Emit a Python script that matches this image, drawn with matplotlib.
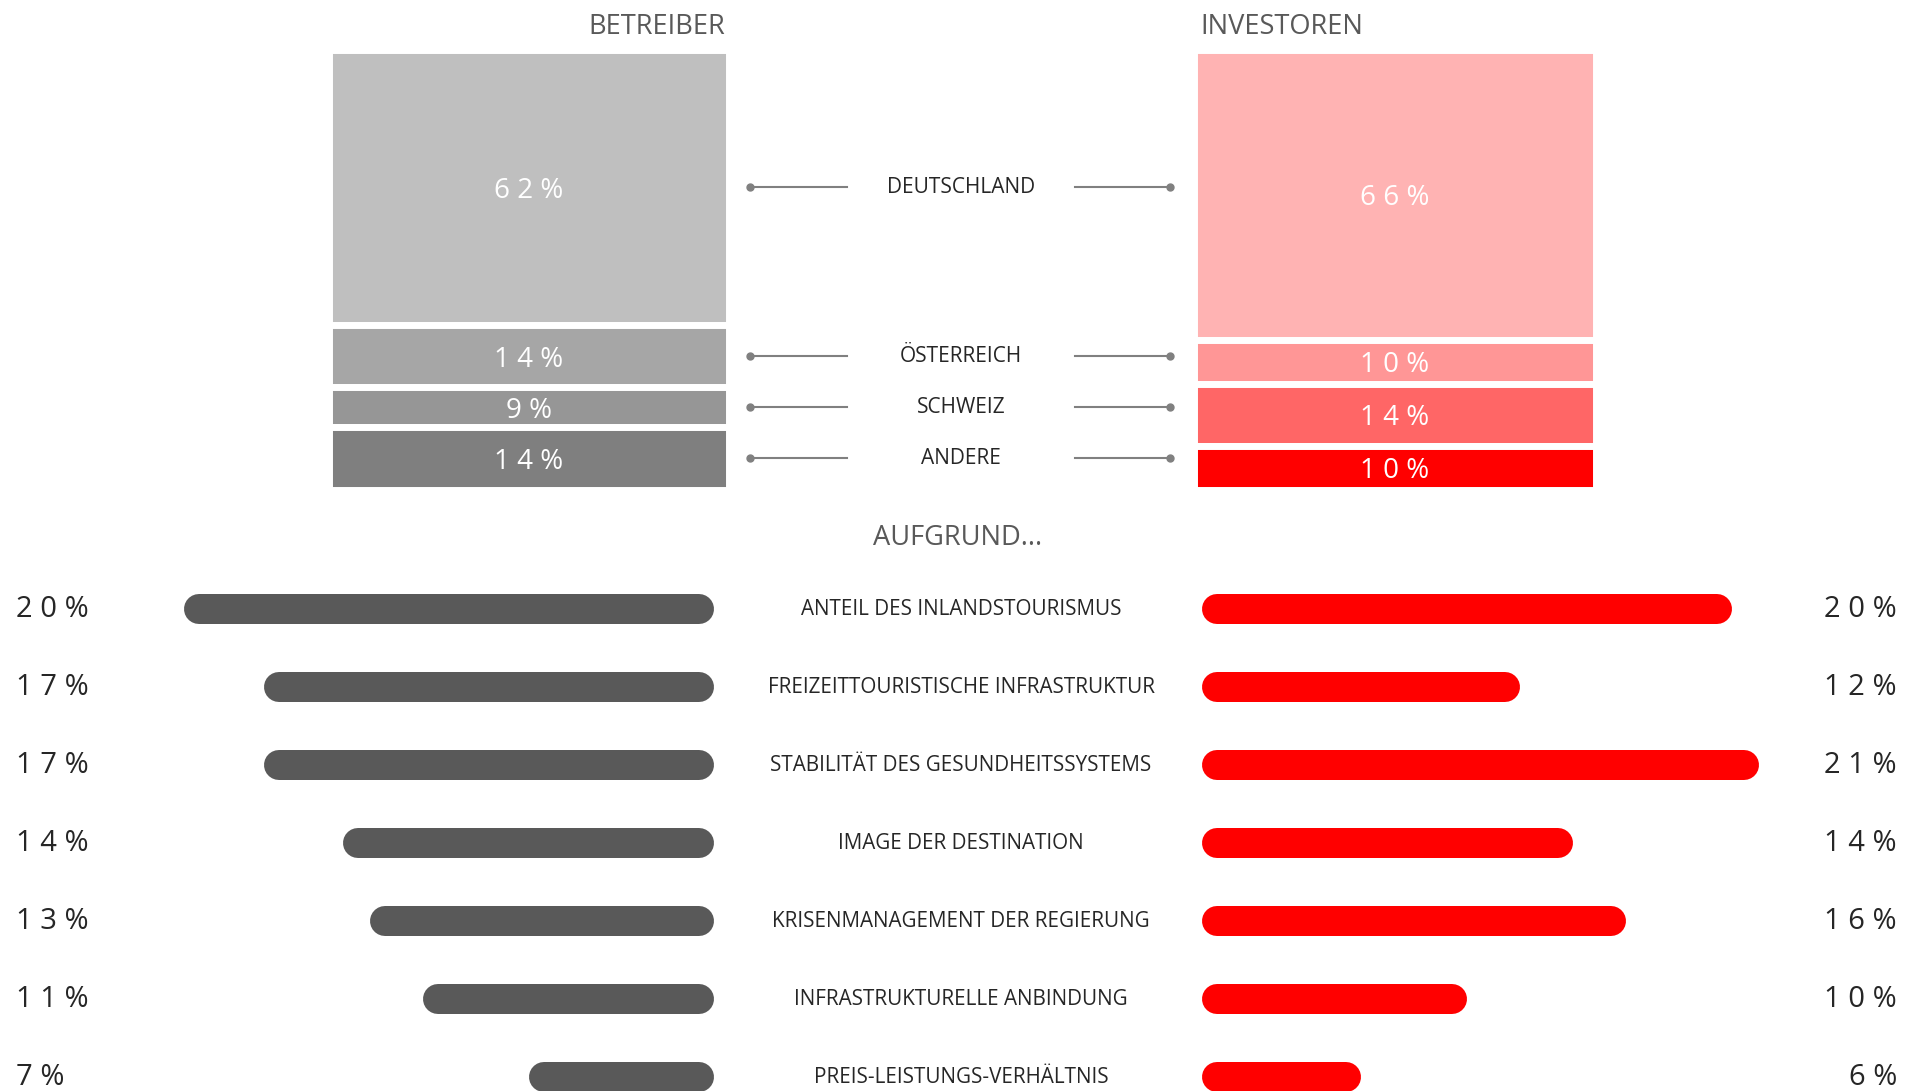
import numpy as np
import matplotlib.pyplot as plt
from matplotlib import transforms

plt.rcParams['font.family'] = ['Open Sans', 'DejaVu Sans']

# top: country split
countries = ['DEUTSCHLAND', 'ÖSTERREICH', 'SCHWEIZ', 'ANDERE']
betreiber_land = [62, 14, 9, 14]
investoren_land = [66, 10, 14, 10]
grey_shades = ['#BFBFBF', '#A6A6A6', '#969696', '#7F7F7F']
red_shades = ['#FFB3B3', '#FF9696', '#FF6666', '#FF0000']

# bottom: reasons
reasons = ['ANTEIL DES INLANDSTOURISMUS', 'FREIZEITTOURISTISCHE INFRASTRUKTUR',
           'STABILITÄT DES GESUNDHEITSSYSTEMS', 'IMAGE DER DESTINATION',
           'KRISENMANAGEMENT DER REGIERUNG', 'INFRASTRUKTURELLE ANBINDUNG',
           'PREIS-LEISTUNGS-VERHÄLTNIS']
betreiber_grund = [20, 17, 17, 14, 13, 11, 7]
investoren_grund = [20, 12, 21, 14, 16, 10, 6]

W, H = 1918, 1091
fig = plt.figure(figsize=(W / 100, H / 100), dpi=100)


def px_rect(x0, y0, x1, y1):
    return [x0 / W, 1 - y1 / H, (x1 - x0) / W, (y1 - y0) / H]


def spaced(v):
    return ' '.join(f'{v}%')


txt_col = '#595959'
dark = '#262626'


def stacked(rect, vals, colors):
    ax = fig.add_axes(rect)
    cum = np.concatenate([[0], np.cumsum(vals)[:-1]])
    ax.bar(0, vals, bottom=cum, width=1, color=colors, edgecolor='white', linewidth=5)
    for c, v in zip(cum, vals):
        ax.text(0, c + v / 2, spaced(v), color='white', fontsize=20,
                ha='center', va='center_baseline')
    ax.set_xlim(-0.5, 0.5)
    ax.set_ylim(sum(vals), 0)
    ax.axis('off')
    return ax, cum


axl, cum_l = stacked(px_rect(328.5, 49.5, 728.5, 489.5), betreiber_land, grey_shades)
axr, cum_r = stacked(px_rect(1193.5, 49.5, 1595.5, 489.5), investoren_land, red_shades)

fig.text(725 / W, 1 - 27 / H, 'BETREIBER', fontsize=19.6, color=txt_col, ha='right', va='center')
fig.text(1200 / W, 1 - 27 / H, 'INVESTOREN', fontsize=19.6, color=txt_col, ha='left', va='center')

# connectors
axm = fig.add_axes(px_rect(750, 49.5, 1170, 489.5))
axm.set_xlim(0, 1)
axm.set_ylim(sum(betreiber_land), 0)
axm.axis('off')
for name, c, v in zip(countries, cum_l, betreiber_land):
    y = c + v / 2
    axm.plot([0, 0.231], [y, y], color='#808080', lw=1.5)
    axm.plot([0.774, 1], [y, y], color='#808080', lw=1.5)
    axm.plot([0, 1], [y, y], 'o', color='#808080', ms=5, ls='none', clip_on=False)
    axm.text((961 - 750) / 420, y, name, fontsize=15, color=dark, ha='center', va='center')

fig.text(958 / W, 1 - 538 / H, 'AUFGRUND...', fontsize=19.6, color=txt_col, ha='center', va='center')

# reason bars
xmax = 24
ppu = 26.5
r = 15 / ppu
rows = np.arange(len(reasons))
ylim = (6.179, -0.5)

axb1 = fig.add_axes(px_rect(714 - ppu * xmax, 570, 714, 1091))
axb1.set_xlim(xmax, 0)
axb1.set_ylim(*ylim)
axb1.axis('off')
axb2 = fig.add_axes(px_rect(1202, 570, 1202 + ppu * xmax, 1091))
axb2.set_xlim(0, xmax)
axb2.set_ylim(*ylim)
axb2.axis('off')

for ax, vals, col in [(axb1, betreiber_grund, '#595959'), (axb2, investoren_grund, '#FF0000')]:
    for i, v in zip(rows, vals):
        ax.plot([r, v - r], [i, i], color=col, lw=21.6, solid_capstyle='round', clip_on=False)

tl = transforms.blended_transform_factory(fig.transFigure, axb1.transData)
for i, name, a, b in zip(rows, reasons, betreiber_grund, investoren_grund):
    fig.text(16 / W, 0, spaced(a), transform=tl, fontsize=21, color=dark, ha='left', va='center').set_y(i)
    fig.text(1897 / W, 0, spaced(b), transform=tl, fontsize=21, color=dark, ha='right', va='center').set_y(i)
    fig.text(961 / W, 0, name, transform=tl, fontsize=14.9, color=dark, ha='center', va='center').set_y(i)

fig.savefig('out.png', dpi=100)
